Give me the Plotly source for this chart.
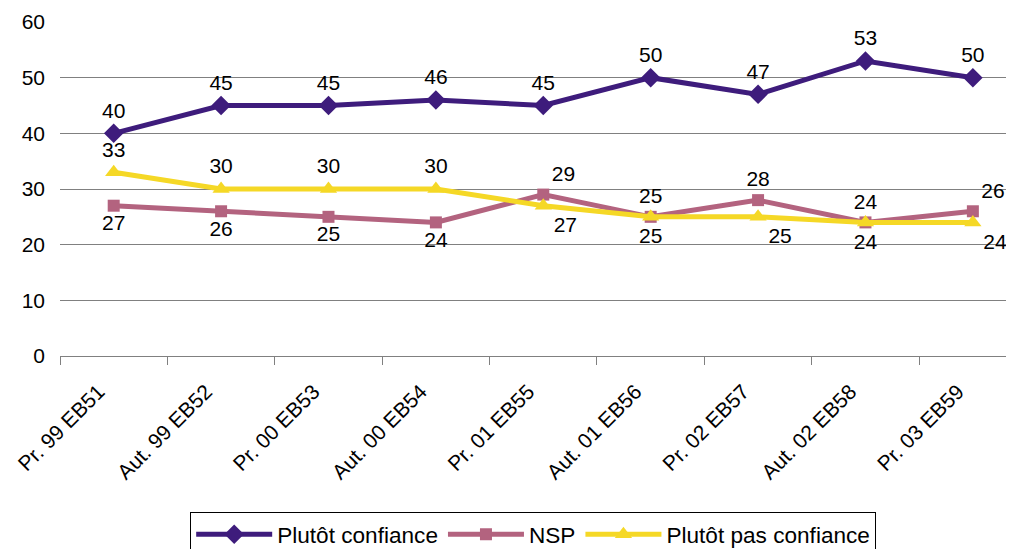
import plotly.graph_objects as go

categories = ["Pr. 99 EB51", "Aut. 99 EB52", "Pr. 00 EB53", "Aut. 00 EB54", "Pr. 01 EB55",
              "Aut. 01 EB56", "Pr. 02 EB57", "Aut. 02 EB58", "Pr. 03 EB59"]
confiance = [40, 45, 45, 46, 45, 50, 47, 53, 50]
nsp = [27, 26, 25, 24, 29, 25, 28, 24, 26]
pas_confiance = [33, 30, 30, 30, 27, 25, 25, 24, 24]

pos_conf = ["top center"] * 9
pos_nsp = ["bottom center"] * 4 + ["top right", "top center", "top center", "top center", "top right"]
pos_pas = ["top center"] * 4 + ["bottom right", "bottom center", "bottom right", "bottom center", "bottom right"]

FONT = "Liberation Sans, Arial, sans-serif"
FS = 21

fig = go.Figure()
fig.add_trace(go.Scatter(
    x=categories, y=confiance, name="Plutôt confiance", mode="lines+markers+text",
    line=dict(color="#3E1C7C", width=5), marker=dict(symbol="diamond", size=15, color="#3E1C7C"),
    text=[str(v) for v in confiance], textposition=pos_conf,
    textfont=dict(size=FS, color="black", family=FONT), cliponaxis=False))
fig.add_trace(go.Scatter(
    x=categories, y=nsp, name="NSP", mode="lines+markers+text",
    line=dict(color="#B3637F", width=5), marker=dict(symbol="square", size=12, color="#B3637F"),
    text=[str(v) for v in nsp], textposition=pos_nsp,
    textfont=dict(size=FS, color="black", family=FONT), cliponaxis=False))
fig.add_trace(go.Scatter(
    x=categories, y=pas_confiance, name="Plutôt pas confiance", mode="lines+markers+text",
    line=dict(color="#F5D826", width=5), marker=dict(symbol="triangle-up", size=15, color="#F5D826"),
    text=[str(v) for v in pas_confiance], textposition=pos_pas,
    textfont=dict(size=FS, color="black", family=FONT), cliponaxis=False))

fig.update_layout(
    width=1006, height=541,
    margin=dict(l=52, r=0, t=14, b=193),
    paper_bgcolor="white", plot_bgcolor="white",
    font=dict(family=FONT, size=FS, color="black"),
    showlegend=True,
    legend=dict(orientation="h", x=0.496, xanchor="center",
                yref="container", y=(541 - 504) / 541, yanchor="top",
                bordercolor="black", borderwidth=1, font=dict(size=22.6, family=FONT),
                itemwidth=76),
    xaxis=dict(type="category", range=[-0.5, 8.383], showgrid=False, showline=True,
               linecolor="#808080", linewidth=1, ticks="outside", tickson="boundaries",
               ticklen=8, tickcolor="#808080", tickangle=-45,
               ticklabelshift=-15, ticklabelstandoff=14, automargin=False,
               tickfont=dict(size=FS, family=FONT, color="black")),
    yaxis=dict(range=[0, 60], dtick=10, showgrid=True, gridcolor="#808080", gridwidth=1,
               zeroline=False, showline=False, ticks="", ticklabelstandoff=14, automargin=False,
               tickfont=dict(size=FS, family=FONT, color="black")),
)

fig.write_html("out.html")
